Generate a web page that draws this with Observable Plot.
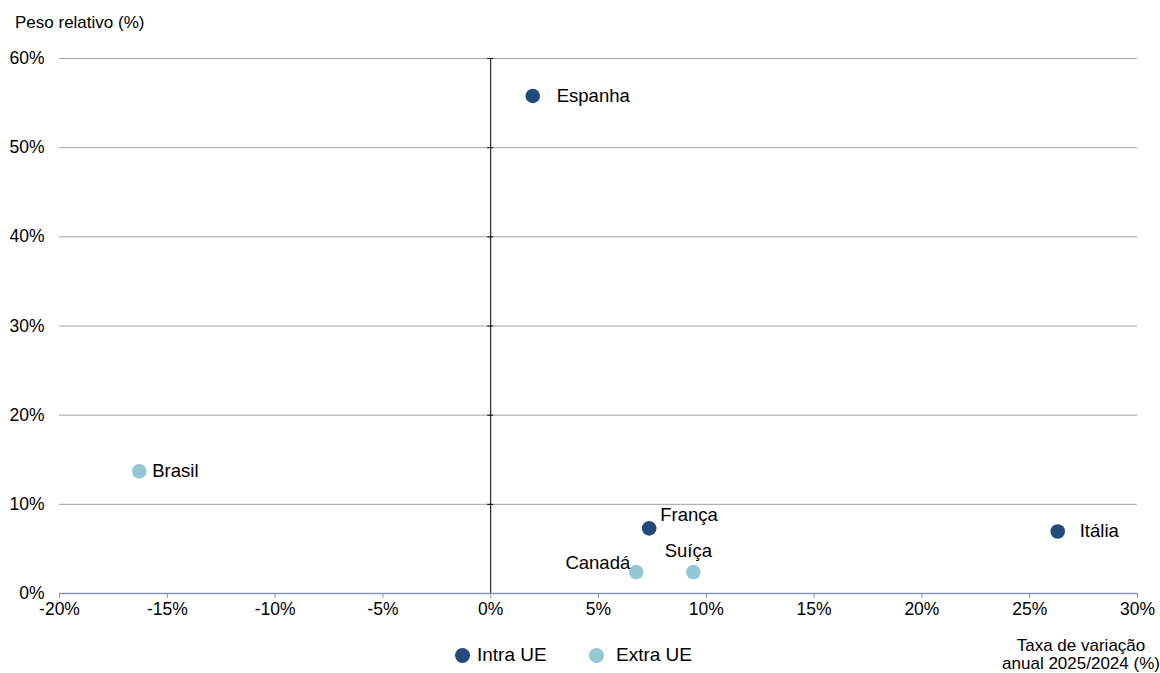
<!DOCTYPE html>
<html>
<head>
<meta charset="utf-8">
<script src="https://cdn.jsdelivr.net/npm/d3@7"></script>
<script src="https://cdn.jsdelivr.net/npm/@observablehq/plot@0.6"></script>
<style>
  html, body { margin: 0; padding: 0; background: #fff; }
  body { width: 1160px; height: 673px; position: relative; font-family: "Liberation Sans", Arial, sans-serif; color: #000; overflow: hidden; }
  #title { height: 40px; box-sizing: border-box; padding: 13px 0 0 15px; font-size: 17px; line-height: 20px; }
  #chart svg { display: block; }
  #bottom { position: relative; height: 43px; }
  .leg { position: absolute; top: 14px; display: flex; align-items: center; font-size: 19px; line-height: 22px; white-space: nowrap; }
  .leg span.sw { display: inline-block; width: 15px; height: 15px; border-radius: 50%; }
  #cap { position: absolute; left: 1000px; width: 162px; top: 7px; text-align: center; font-size: 17px; line-height: 18px; white-space: nowrap; }
</style>
</head>
<body>
<div id="title">Peso relativo (%)</div>
<div id="chart"></div>
<div id="bottom">
  <div class="leg" id="leg1" style="left:455px"><span class="sw" style="background:#234a7a;margin-right:7px"></span>Intra UE</div>
  <div class="leg" id="leg2" style="left:589px"><span class="sw" style="background:#93c7d5;margin-right:12px"></span>Extra UE</div>
  <div id="cap">Taxa de variação<br>anual 2025/2024 (%)</div>
</div>
<script>
// Data
const countries = ["Espanha", "Brasil", "França", "Itália", "Canadá", "Suíça"];
const growth    = [1.95, -16.3, 7.35, 26.3, 6.75, 9.4];   // Taxa de variação anual 2025/2024 (%)
const weight    = [55.8, 13.7, 7.3, 6.95, 2.4, 2.4];      // Peso relativo (%)
const groups    = ["Intra UE", "Extra UE", "Intra UE", "Intra UE", "Extra UE", "Extra UE"];
const groupNames = ["Intra UE", "Extra UE"];
const groupColors = ["#234a7a", "#93c7d5"];
const xTicks = [-20, -15, -10, -5, 0, 5, 10, 15, 20, 25, 30];
const yTicks = [0, 10, 20, 30, 40, 50, 60];

const data = countries.map((c, i) => ({country: c, x: growth[i], y: weight[i], group: groups[i]}));
const pct = d => d + "%";
const pick = names => data.filter(d => names.includes(d.country));

const chart = Plot.plot({
  width: 1160,
  height: 590,
  marginLeft: 59,
  marginRight: 23,
  marginTop: 18,
  marginBottom: 37,
  style: {fontFamily: "Liberation Sans, Arial, sans-serif", fontSize: "17.5px", color: "#000", background: "#fff"},
  x: {domain: [-20, 30], ticks: xTicks, tickFormat: pct, label: null},
  y: {domain: [0, 60], ticks: yTicks, tickFormat: pct, label: null},
  color: {domain: groupNames, range: groupColors},
  marks: [
    Plot.ruleY(yTicks.filter(v => v !== 0), {stroke: "#a3a3a3", strokeWidth: 1}),
    Plot.ruleX([0], {stroke: "#000", strokeWidth: 1}),
    Plot.ruleY(yTicks.filter(v => v !== 0), {x1: -0.14, x2: 0.14, stroke: "#000", strokeWidth: 1}),
    Plot.ruleY([0], {stroke: "#8497b0", strokeWidth: 1.5}),
    Plot.axisX({ticks: xTicks, tickFormat: pct, tickSize: 5, tickPadding: 4, stroke: "#8497b0", fontSize: 17.5, label: null}),
    Plot.axisY({ticks: yTicks, tickFormat: pct, tickSize: 0, tickPadding: 15, fontSize: 17.5, label: null}),
    Plot.dot(data, {x: "x", y: "y", fill: "group", r: 7.3}),
    Plot.text(pick(["Espanha"]), {x: "x", y: "y", text: "country", textAnchor: "start", dx: 24, fontSize: 18.5}),
    Plot.text(pick(["Brasil"]), {x: "x", y: "y", text: "country", textAnchor: "start", dx: 13, fontSize: 18.5}),
    Plot.text(pick(["Itália"]), {x: "x", y: "y", text: "country", textAnchor: "start", dx: 22, fontSize: 18.5}),
    Plot.text(pick(["França"]), {x: "x", y: "y", text: "country", textAnchor: "start", dx: 11, dy: -13, fontSize: 18.5}),
    Plot.text(pick(["Suíça"]), {x: "x", y: "y", text: "country", textAnchor: "middle", dx: -5, dy: -21, fontSize: 18.5}),
    Plot.text(pick(["Canadá"]), {x: "x", y: "y", text: "country", textAnchor: "end", dx: -6, dy: -9, fontSize: 18.5})
  ]
});
document.getElementById("chart").appendChild(chart);
</script>
</body>
</html>
